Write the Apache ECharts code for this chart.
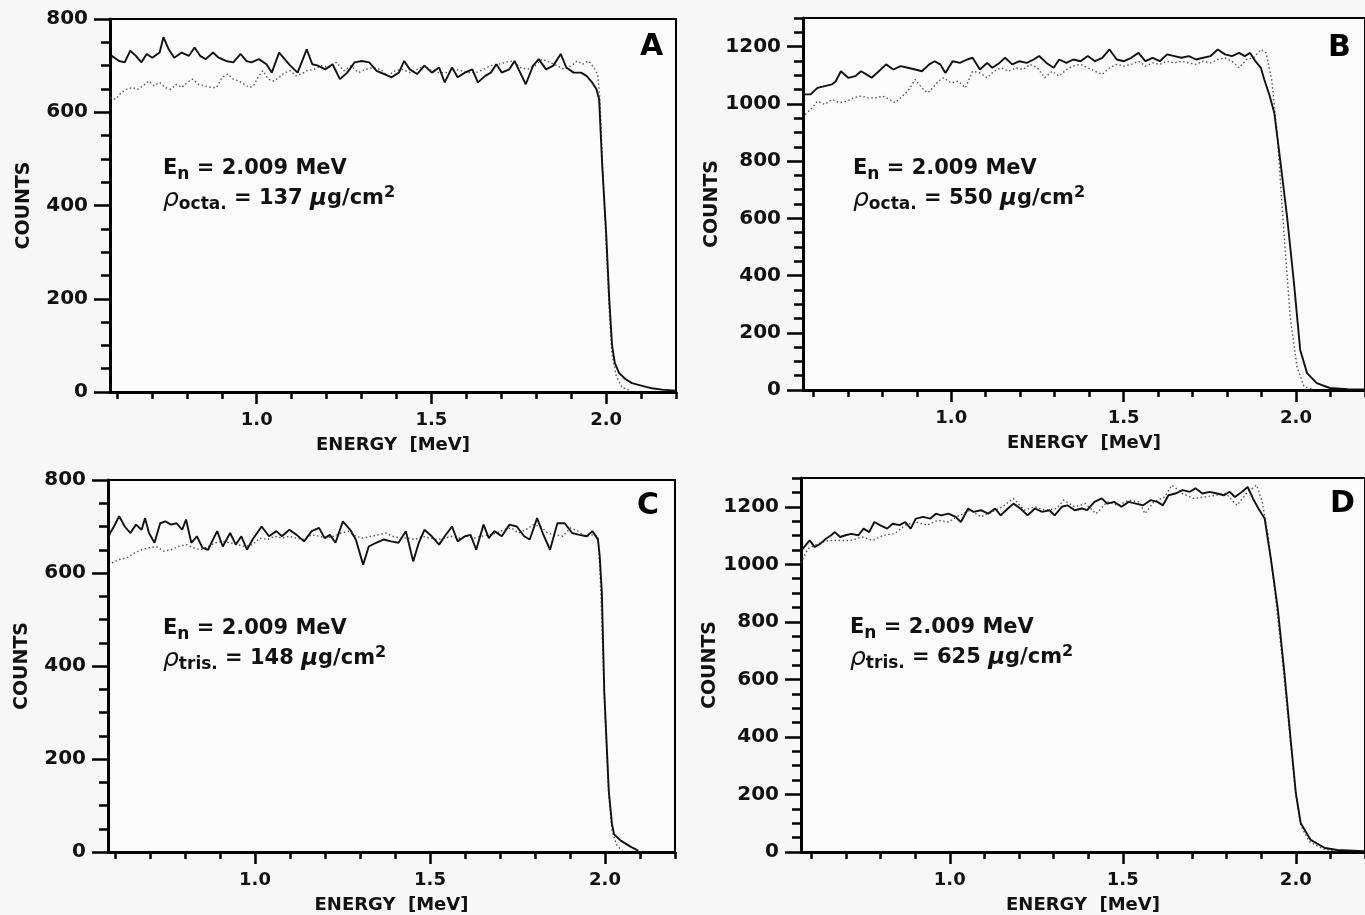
<!DOCTYPE html>
<html><head><meta charset="utf-8">
<script src="https://cdn.jsdelivr.net/npm/echarts@6/dist/echarts.min.js"></script>
<style>html,body{margin:0;padding:0;background:#f7f7f7}#c{width:1365px;height:915px}</style>
</head><body><div id="c"></div>
<script>
// ---------- data ----------
const energyTicks = [0.6,0.7,0.8,0.9,1.0,1.1,1.2,1.3,1.4,1.5,1.6,1.7,1.8,1.9,2.0,2.1,2.2];
const energyLabels = [1.0,1.5,2.0];
const panelLetters = ['A','B','C','D'];
const absorbers = ['octa.','octa.','tris.','tris.'];
const thickness = ['137','550','148','625'];
const neutronEnergy = '2.009';
const countMax = [800,1300,800,1300];

const aSolid = [[0.58,700],[0.585,721],[0.606,710],[0.622,707],[0.638,732],[0.654,721],[0.670,707],[0.685,725],[0.701,717],[0.722,728],[0.733,761],[0.748,735],[0.764,717],[0.785,728],[0.806,721],[0.822,739],[0.838,721],[0.854,714],[0.875,728],[0.891,717],[0.912,710],[0.933,707],[0.954,725],[0.970,710],[0.985,707],[1.006,714],[1.028,703],[1.043,685],[1.064,728],[1.080,714],[1.096,700],[1.117,685],[1.143,735],[1.159,703],[1.175,700],[1.196,692],[1.217,703],[1.238,671],[1.259,685],[1.280,707],[1.301,710],[1.322,707],[1.343,689],[1.365,682],[1.386,675],[1.407,685],[1.422,710],[1.438,692],[1.459,682],[1.480,700],[1.501,685],[1.522,696],[1.538,664],[1.559,696],[1.575,675],[1.596,685],[1.617,692],[1.633,664],[1.654,678],[1.670,685],[1.686,703],[1.701,685],[1.723,692],[1.738,710],[1.754,685],[1.770,660],[1.791,700],[1.807,714],[1.828,692],[1.849,700],[1.870,725],[1.886,696],[1.907,685],[1.928,685],[1.944,678],[1.960,664],[1.972,650],[1.980,628],[1.989,484],[2.000,342],[2.009,198],[2.017,100],[2.025,62],[2.037,41],[2.055,28],[2.074,19],[2.114,11],[2.131,8],[2.160,5],[2.200,3]];
const aDotted = [[0.580,631],[0.596,628],[0.612,642],[0.627,649],[0.643,653],[0.659,649],[0.675,657],[0.691,667],[0.706,657],[0.722,664],[0.738,653],[0.754,649],[0.770,660],[0.785,653],[0.801,664],[0.817,671],[0.833,660],[0.849,657],[0.870,653],[0.885,653],[0.901,675],[0.917,682],[0.933,671],[0.949,667],[0.964,660],[0.980,653],[0.991,657],[1.006,678],[1.017,689],[1.033,671],[1.049,667],[1.064,675],[1.080,685],[1.096,689],[1.112,678],[1.128,682],[1.143,689],[1.164,692],[1.185,700],[1.207,696],[1.228,707],[1.249,689],[1.270,700],[1.291,685],[1.312,692],[1.333,696],[1.354,692],[1.375,678],[1.396,689],[1.417,692],[1.438,685],[1.459,692],[1.480,700],[1.501,689],[1.522,685],[1.543,685],[1.565,692],[1.586,689],[1.607,685],[1.628,685],[1.649,692],[1.670,700],[1.691,703],[1.712,707],[1.733,710],[1.754,696],[1.775,692],[1.796,700],[1.817,714],[1.838,707],[1.859,700],[1.880,692],[1.901,700],[1.917,710],[1.933,703],[1.949,710],[1.965,696],[1.976,680],[1.983,620],[1.990,480],[2.000,320],[2.009,175],[2.017,80],[2.029,35],[2.045,10],[2.070,3]];

const bSolid = [[0.571,1033],[0.592,1033],[0.612,1056],[0.633,1062],[0.654,1068],[0.665,1079],[0.680,1114],[0.701,1091],[0.722,1097],[0.738,1114],[0.754,1103],[0.769,1091],[0.790,1114],[0.811,1138],[0.832,1120],[0.853,1132],[0.874,1126],[0.895,1120],[0.915,1114],[0.936,1138],[0.952,1149],[0.968,1138],[0.983,1108],[1.004,1149],[1.025,1143],[1.046,1155],[1.062,1161],[1.083,1120],[1.104,1143],[1.119,1126],[1.140,1143],[1.156,1161],[1.177,1138],[1.198,1149],[1.219,1143],[1.239,1155],[1.255,1167],[1.276,1143],[1.297,1126],[1.313,1155],[1.334,1143],[1.354,1155],[1.375,1149],[1.396,1167],[1.417,1149],[1.438,1161],[1.459,1190],[1.480,1155],[1.501,1149],[1.522,1161],[1.543,1178],[1.563,1149],[1.584,1161],[1.605,1149],[1.626,1173],[1.647,1167],[1.668,1161],[1.689,1167],[1.710,1155],[1.731,1161],[1.752,1167],[1.773,1190],[1.794,1173],[1.814,1167],[1.835,1178],[1.851,1167],[1.867,1178],[1.882,1149],[1.898,1126],[1.908,1084],[1.923,1030],[1.937,968],[1.954,804],[1.974,605],[1.994,374],[2.012,140],[2.032,59],[2.060,24],[2.098,7],[2.150,3],[2.200,2]];
const bDotted = [[0.576,963],[0.592,980],[0.612,1009],[0.633,998],[0.654,1015],[0.675,1004],[0.696,1009],[0.717,1021],[0.738,1027],[0.759,1021],[0.780,1021],[0.801,1027],[0.821,1015],[0.837,1004],[0.853,1021],[0.874,1044],[0.895,1085],[0.915,1056],[0.931,1038],[0.947,1056],[0.962,1079],[0.978,1091],[0.999,1073],[1.020,1079],[1.041,1056],[1.062,1114],[1.083,1108],[1.104,1091],[1.124,1114],[1.145,1126],[1.166,1114],[1.187,1126],[1.208,1120],[1.229,1138],[1.250,1126],[1.271,1091],[1.292,1114],[1.313,1097],[1.334,1120],[1.354,1132],[1.375,1138],[1.396,1126],[1.417,1114],[1.438,1103],[1.459,1126],[1.480,1138],[1.501,1132],[1.522,1138],[1.543,1149],[1.563,1132],[1.584,1143],[1.605,1138],[1.626,1149],[1.647,1143],[1.668,1149],[1.689,1143],[1.710,1138],[1.731,1149],[1.752,1143],[1.773,1155],[1.794,1161],[1.814,1149],[1.835,1126],[1.856,1155],[1.877,1161],[1.898,1190],[1.913,1178],[1.930,1080],[1.945,898],[1.965,549],[1.983,255],[2.003,80],[2.023,12],[2.050,3]];

const cSolid = [[0.580,672],[0.586,686],[0.597,700],[0.612,722],[0.628,700],[0.644,686],[0.660,704],[0.676,693],[0.686,718],[0.697,686],[0.713,665],[0.729,707],[0.744,711],[0.760,704],[0.776,707],[0.792,693],[0.803,715],[0.818,665],[0.834,679],[0.850,654],[0.866,650],[0.882,675],[0.892,690],[0.908,657],[0.929,686],[0.945,661],[0.961,679],[0.977,650],[0.993,672],[1.019,700],[1.040,679],[1.061,690],[1.077,679],[1.098,693],[1.119,682],[1.140,668],[1.162,690],[1.183,697],[1.199,675],[1.214,682],[1.230,665],[1.251,711],[1.272,693],[1.288,672],[1.309,618],[1.325,657],[1.346,665],[1.367,672],[1.389,668],[1.410,665],[1.431,690],[1.452,625],[1.468,665],[1.484,693],[1.505,679],[1.526,661],[1.542,679],[1.563,700],[1.579,668],[1.600,679],[1.616,682],[1.632,650],[1.653,704],[1.668,675],[1.684,690],[1.705,679],[1.727,704],[1.748,700],[1.769,679],[1.785,672],[1.806,718],[1.822,686],[1.843,650],[1.864,707],[1.885,707],[1.906,686],[1.927,682],[1.948,679],[1.964,690],[1.980,672],[1.985,635],[1.991,558],[1.998,343],[2.011,129],[2.020,60],[2.026,38],[2.046,24],[2.074,11],[2.095,3]];
const cDotted = [[0.591,622],[0.612,629],[0.634,632],[0.655,643],[0.676,650],[0.697,654],[0.718,657],[0.739,647],[0.760,650],[0.781,657],[0.803,661],[0.824,654],[0.845,650],[0.866,657],[0.887,665],[0.908,668],[0.929,665],[0.950,661],[0.971,657],[0.993,661],[1.014,675],[1.035,672],[1.056,679],[1.077,675],[1.098,679],[1.119,675],[1.140,672],[1.162,682],[1.183,679],[1.204,675],[1.225,679],[1.246,686],[1.267,690],[1.288,679],[1.309,675],[1.331,679],[1.352,682],[1.373,686],[1.394,679],[1.415,675],[1.436,675],[1.457,672],[1.478,679],[1.499,675],[1.521,672],[1.542,675],[1.563,679],[1.584,675],[1.605,679],[1.626,675],[1.647,679],[1.668,682],[1.690,686],[1.711,693],[1.732,697],[1.753,686],[1.774,693],[1.795,704],[1.816,700],[1.837,686],[1.859,682],[1.880,679],[1.901,697],[1.922,690],[1.943,679],[1.964,682],[1.980,679],[1.986,600],[1.993,450],[2.000,300],[2.010,130],[2.020,45],[2.035,12],[2.050,4]];

const dSolid = [[0.570,1045],[0.579,1060],[0.595,1083],[0.610,1060],[0.626,1072],[0.642,1089],[0.657,1101],[0.668,1112],[0.683,1095],[0.699,1101],[0.715,1106],[0.736,1101],[0.751,1124],[0.767,1112],[0.782,1147],[0.798,1136],[0.819,1124],[0.835,1141],[0.855,1136],[0.871,1147],[0.887,1124],[0.902,1159],[0.923,1165],[0.944,1159],[0.960,1176],[0.975,1170],[0.996,1176],[1.017,1165],[1.032,1147],[1.053,1194],[1.069,1182],[1.090,1188],[1.111,1176],[1.131,1194],[1.147,1170],[1.168,1194],[1.184,1211],[1.204,1194],[1.225,1170],[1.246,1194],[1.267,1182],[1.288,1188],[1.303,1170],[1.324,1200],[1.340,1205],[1.361,1188],[1.382,1194],[1.397,1188],[1.418,1217],[1.439,1229],[1.455,1211],[1.475,1217],[1.496,1200],[1.517,1217],[1.538,1211],[1.559,1205],[1.580,1223],[1.600,1217],[1.616,1205],[1.632,1240],[1.652,1246],[1.673,1258],[1.694,1252],[1.710,1264],[1.730,1246],[1.751,1252],[1.772,1246],[1.793,1240],[1.809,1252],[1.824,1234],[1.845,1252],[1.861,1269],[1.876,1229],[1.892,1194],[1.910,1159],[1.928,1019],[1.948,845],[1.968,611],[1.986,380],[2.000,206],[2.014,101],[2.043,42],[2.084,14],[2.120,7],[2.200,3]];
const dDotted = [[0.570,1005],[0.590,1054],[0.621,1072],[0.652,1083],[0.683,1083],[0.715,1083],[0.746,1095],[0.777,1083],[0.808,1101],[0.840,1106],[0.871,1136],[0.902,1147],[0.934,1136],[0.965,1153],[0.996,1147],[1.027,1170],[1.059,1188],[1.090,1165],[1.121,1182],[1.152,1200],[1.184,1229],[1.215,1188],[1.246,1200],[1.277,1188],[1.309,1194],[1.329,1223],[1.361,1200],[1.392,1211],[1.423,1176],[1.455,1217],[1.486,1205],[1.517,1223],[1.548,1217],[1.564,1176],[1.590,1217],[1.621,1234],[1.642,1275],[1.673,1246],[1.705,1229],[1.736,1234],[1.767,1240],[1.798,1246],[1.830,1205],[1.861,1252],[1.887,1275],[1.903,1217],[1.920,1100],[1.940,900],[1.960,680],[1.980,440],[2.000,200],[2.015,90],[2.040,35],[2.080,10],[2.120,3]];

// ---------- layout ----------
const FONT = 'DejaVu Sans';
const panels = [
  {solid:aSolid, dotted:aDotted, grid:{left:110,top:19,width:566,height:373}, xmin:0.58, ann:{left:163,top:154}, letter:{left:640,top:32}},
  {solid:bSolid, dotted:bDotted, grid:{left:803,top:18,width:566,height:372}, xmin:0.57, ann:{left:853,top:154}, letter:{left:1328,top:33}},
  {solid:cSolid, dotted:cDotted, grid:{left:108,top:480,width:567,height:373}, xmin:0.58, ann:{left:163,top:614}, letter:{left:637,top:491}},
  {solid:dSolid, dotted:dDotted, grid:{left:801,top:478,width:564,height:374}, xmin:0.57, ann:{left:850,top:613}, letter:{left:1330,top:489}}
];

const grids=[], xAxes=[], yAxes=[], series=[], titles=[];
const xLabelStyle = {fontFamily:FONT, fontWeight:'bold', fontSize:18, color:'#111'};
const yLabelStyle = {fontFamily:FONT, fontWeight:'bold', fontSize:20, color:'#111'};

panels.forEach((p,i)=>{
  grids.push(Object.assign({show:true, borderColor:'#000', borderWidth:2, backgroundColor:'#fbfbfb', containLabel:false}, p.grid));
  const ymax = countMax[i];
  xAxes.push({gridIndex:i, type:'value', position:'bottom', min:p.xmin, max:2.2,
    axisLine:{show:true, onZero:false, lineStyle:{color:'#000', width:3}},
    axisTick:{show:true, customValues:energyTicks, length:7, lineStyle:{color:'#000', width:2.5}},
    axisLabel:Object.assign({customValues:energyLabels, margin:19, formatter:v=>Number(v).toFixed(1)}, xLabelStyle),
    splitLine:{show:false},
    name:'ENERGY  [MeV]', nameLocation:'middle', nameGap:44,
    nameTextStyle:{fontFamily:FONT, fontWeight:'bold', fontSize:18, color:'#111'}});
  xAxes.push({gridIndex:i, type:'value', position:'bottom', min:p.xmin, max:2.2,
    axisLine:{show:false, onZero:false}, axisLabel:{show:false}, splitLine:{show:false},
    axisTick:{show:true, customValues:energyLabels, length:12, lineStyle:{color:'#000', width:2.5}}});
  yAxes.push({gridIndex:i, type:'value', position:'left', min:0, max:ymax, interval:200,
    axisLine:{show:true, onZero:false, lineStyle:{color:'#000', width:3}},
    axisTick:{show:true, length:16, lineStyle:{color:'#000', width:2.5}},
    axisLabel:Object.assign({margin:22, showMaxLabel: ymax===800, formatter:v=>String(v)}, yLabelStyle),
    splitLine:{show:false},
    name:'COUNTS', nameLocation:'middle', nameRotate:90, nameGap:76,
    nameTextStyle:{fontFamily:FONT, fontWeight:'bold', fontSize:19, color:'#111'}});
  yAxes.push({gridIndex:i, type:'value', position:'left', min:0, max:ymax, interval:50,
    axisLine:{show:false, onZero:false}, axisLabel:{show:false}, splitLine:{show:false},
    axisTick:{show:true, length:9, lineStyle:{color:'#000', width:2.5}}});

  series.push({type:'line', xAxisIndex:2*i, yAxisIndex:2*i, data:p.dotted, showSymbol:false, z:2,
    lineStyle:{color:'#555', width:1.4, type:[1.5,2.5]}});
  series.push({type:'line', xAxisIndex:2*i, yAxisIndex:2*i, data:p.solid, showSymbol:false, z:3,
    lineStyle:{color:'#111', width:1.9}});

  titles.push({left:p.ann.left, top:p.ann.top, padding:0,
    text:'{t|E}{sub|n}{t| = '+neutronEnergy+' MeV}\n{rho|ρ}{sub|'+absorbers[i]+'}{t| = '+thickness[i]+' }{mu|μ}{t|g/cm}{sup|2}',
    textStyle:{rich:{
      t:{fontFamily:FONT, fontWeight:'bold', fontSize:21, color:'#111', lineHeight:30, verticalAlign:'middle'},
      sub:{fontFamily:FONT, fontWeight:'bold', fontSize:17, color:'#111', lineHeight:16, padding:[12,0,0,0], verticalAlign:'middle'},
      sup:{fontFamily:FONT, fontWeight:'bold', fontSize:16, color:'#111', lineHeight:15, padding:[0,0,12,0], verticalAlign:'middle'},
      rho:{fontFamily:FONT, fontStyle:'italic', fontWeight:'normal', fontSize:25, color:'#111', lineHeight:30, verticalAlign:'middle'},
      mu:{fontFamily:FONT, fontStyle:'italic', fontWeight:'bold', fontSize:23, color:'#111', lineHeight:30, verticalAlign:'middle'}
    }}});
  titles.push({left:p.letter.left, top:p.letter.top, padding:0, text:panelLetters[i],
    textStyle:{fontFamily:FONT, fontWeight:'bold', fontSize:30, color:'#000'}});
});

const chart = echarts.init(document.getElementById('c'), null, {renderer:'canvas'});
chart.setOption({
  backgroundColor:'#f7f7f7',
  animation:false,
  title:titles,
  grid:grids, xAxis:xAxes, yAxis:yAxes, series:series
});
</script></body></html>
